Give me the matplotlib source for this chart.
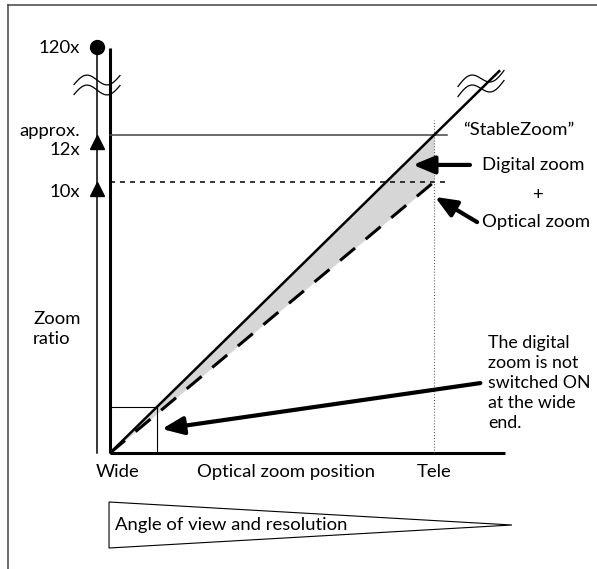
import numpy as np
import matplotlib.pyplot as plt
from matplotlib.lines import Line2D

plt.rcParams["font.family"] = ["Lato", "DejaVu Sans"]
plt.rcParams["lines.scale_dashes"] = False

# Zoom position: Wide = 0, Tele = 1 ; zoom ratio in "x" units (broken axis above 12x)
zoom_pos = [0.0, 1.0]
optical_ratio = [0.0, 10.0]          # optical zoom only
stable_ratio = [0.0, 11.73]          # optical + digital ("StableZoom")
max_ratio_pos = 15.0                 # where 120x sits on the broken axis
ratio_values = [15.0, 11.73, 10.0]
ratio_labels = ["120x", "approx.\n12x", "10x"]
wide_box = 0.145                     # digital zoom not active below this position
pos_labels = ["Wide", "Optical zoom position", "Tele"]
pos_label_x = [0.022, 0.543, 1.0]

fig = plt.figure(figsize=(5.97, 5.69), dpi=100)
ax = fig.add_axes([0, 0, 1, 1])
ax.set_xlim(-110 / 324, 487 / 324)
ax.set_ylim(-116 / 27.1, 453 / 27.1)
ax.axis("off")

# outer frame (only left and top edges visible)
fig.add_artist(Line2D([8 / 597, 8 / 597], [0, 1 - 5 / 569], color="#444444", lw=1.1))
fig.add_artist(Line2D([8 / 597, 1], [1 - 5 / 569, 1 - 5 / 569], color="#444444", lw=1.1))

fs = 13.3

# shaded region between optical and stable zoom
ax.fill_between(zoom_pos, optical_ratio, stable_ratio, color="#d6d6d6", lw=0)

# axes
ax.plot([0, 0], [0, max_ratio_pos - 0.05], color="black", lw=2.2, solid_capstyle="butt")
ax.plot([0, 1.219], [0, 0], color="black", lw=2.2, solid_capstyle="butt")

# thin ratio arrow line with 120x dot
arrow_x = -0.04
ax.plot([arrow_x, arrow_x], [0, max_ratio_pos], color="black", lw=1.1)
ax.plot([arrow_x], [max_ratio_pos], "o", color="black", ms=10)
for v in ratio_values[1:]:
    ax.plot([arrow_x], [v - 0.27], "^", color="black", ms=10.5)

for v, lab in zip(ratio_values, ratio_labels):
    ax.text(-0.0926, v - 0.2 if "\n" in lab else v - 0.05 if v > 12 else v - 0.38,
            lab, ha="right", va="center", fontsize=fs, multialignment="right",
            linespacing=1.25)

# reference lines at 12x and 10x, dotted line at Tele
ax.plot([0, 1.04], [stable_ratio[1]] * 2, color="#444444", lw=1.1)
ax.plot([0, 1.04], [optical_ratio[1]] * 2, color="black", lw=1.1, dashes=(3.6, 3.6))
ax.plot([1, 1], [0, 12.29], color="#555555", lw=0.8, dashes=(0.7, 1.4))

# zoom curves
ext = 1.204
ax.plot([0, ext], [0, stable_ratio[1] * ext], color="black", lw=1.8, solid_capstyle="butt")
ax.plot(zoom_pos, optical_ratio, color="black", lw=2.2, dashes=(14, 10))

# small box near the wide end
ax.plot([0, wide_box, wide_box], [stable_ratio[1] * wide_box] * 2 + [0],
        color="black", lw=0.8)


def wave(cx, cy, width, tilt):
    t = np.linspace(0, 1, 60)
    xs = (cx - width / 2 + width * t - 110) / 324
    ys = (453 - (cy + 4.5 - 7 * np.sin(2 * np.pi * t) - tilt * t)) / 27.1
    return xs, ys


for cy in (80, 90):
    xs, ys = wave(97, cy, 46, 9)
    ax.plot(xs, ys, color="black", lw=0.9)
for cy in (82, 92):
    xs, ys = wave(481, cy, 46, 16)
    ax.plot(xs, ys, color="black", lw=0.9)

# arrows
arrow_style = dict(arrowstyle="-|>,head_length=0.65,head_width=0.27", color="black",
                   lw=3, shrinkA=0, shrinkB=0, mutation_scale=20)
ax.annotate("", xy=(0.935, 10.63), xytext=(1.111, 10.63), arrowprops=arrow_style)
ax.annotate("", xy=(1.003, 9.45), xytext=(1.133, 8.52), arrowprops=arrow_style)
ax.annotate("", xy=(0.16, 0.886), xytext=(1.143, 2.58), arrowprops=arrow_style)

# wedge: angle of view and resolution
ax.fill([-0.003, 1.2407, -0.003], [-1.808, -2.657, -3.506], facecolor="white",
        edgecolor="black", lw=0.8)
ax.text(0.0154, -2.657, "Angle of view and resolution", ha="left", va="center", fontsize=fs)

# labels
for x, lab in zip(pos_label_x, pos_labels):
    ax.text(x, -0.70, lab, ha="center", va="center", fontsize=fs)
ax.text(-0.2377, 4.576, "Zoom\nratio", ha="left", va="center", fontsize=fs, linespacing=1.25)
ax.text(1.0895, 11.92, "\u201cStableZoom\u201d", ha="left", va="center", fontsize=fs)
ax.text(1.148, 10.63, "Digital zoom", ha="left", va="center", fontsize=fs)
ax.text(1.318, 9.52, "+", ha="center", va="center", fontsize=fs)
ax.text(1.148, 8.52, "Optical zoom", ha="left", va="center", fontsize=fs)
ax.text(1.168, 2.58, "The digital\nzoom is not\nswitched ON\nat the wide\nend.",
        ha="left", va="center", fontsize=12.8, linespacing=1.3)

fig.savefig("out.png", dpi=100)
